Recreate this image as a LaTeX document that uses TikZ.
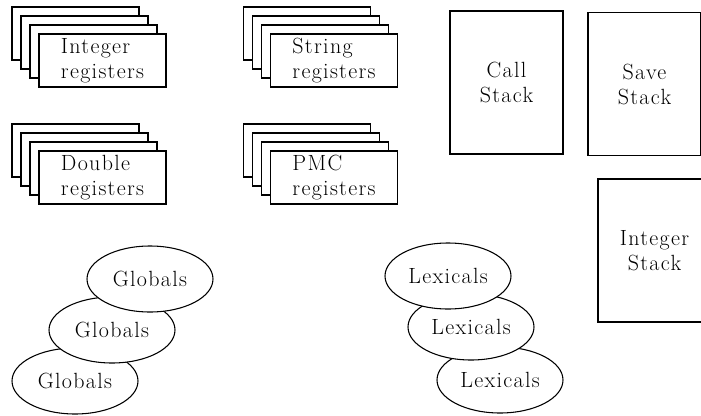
\documentclass[tikz,border=0pt]{standalone}
\usepackage{fontspec}
\setmainfont{Latin Modern Roman}[LetterSpace=6]
\usepackage{tikz}
\usetikzlibrary{calc,shapes.geometric}

\begin{document}
\begin{tikzpicture}[x=0.75pt, y=-0.75pt, line width=0.8pt,
        font=\fontsize{16.5}{18.75}\selectfont,
        regbox/.style={draw, fill=white, minimum width=95.25pt,
            minimum height=39.75pt, inner sep=0pt, align=left},
        stackbox/.style={draw, fill=white, minimum width=84.75pt,
            minimum height=107.25pt, inner sep=0pt, align=center},
        pool/.style={draw, fill=white, ellipse, minimum width=94.5pt,
            minimum height=49.5pt, inner sep=0pt}]
        % Offset between the frames of one register set
        \pgfmathsetmacro{\step}{9}

        \useasboundingbox (0, 0) rectangle (701, 415);

        % Register sets: three frames behind, the named one in front
        \foreach \name/\cx/\cy/\txt in {
            intreg/75.5/33.5/{Integer\\registers},
            numreg/75.5/150.5/{Double\\registers},
            strreg/307/33.5/{String\\registers},
            pmcreg/307/150.5/{PMC\\registers}} {
            \foreach \i in {0, 1, 2}
                \node[regbox] (\name\i) at (\cx + \step*\i, \cy + \step*\i) {};
            \node[regbox] (\name) at (\cx + 3*\step, \cy + 3*\step) {\txt};
        }

        % Stacks
        \node[stackbox] (callstack) at (506.5, 82.5) {Call\\Stack};
        \node[stackbox] (savestack) at (644.5, 84) {Save\\Stack};
        \node[stackbox] (intstack) at (654.5, 250.5) {Integer\\Stack};

        % Globals, the lowest one first so that the upper ones cover it
        \node[pool] (glob3) at (75, 381) {Globals};
        \node[pool] (glob2) at (112, 330) {Globals};
        \node[pool] (glob1) at (150, 279) {Globals};

        % Lexicals
        \node[pool] (lex3) at (500, 380) {Lexicals};
        \node[pool] (lex2) at (471, 327) {Lexicals};
        \node[pool] (lex1) at (448, 276) {Lexicals};

        \end{tikzpicture}
\end{document}
